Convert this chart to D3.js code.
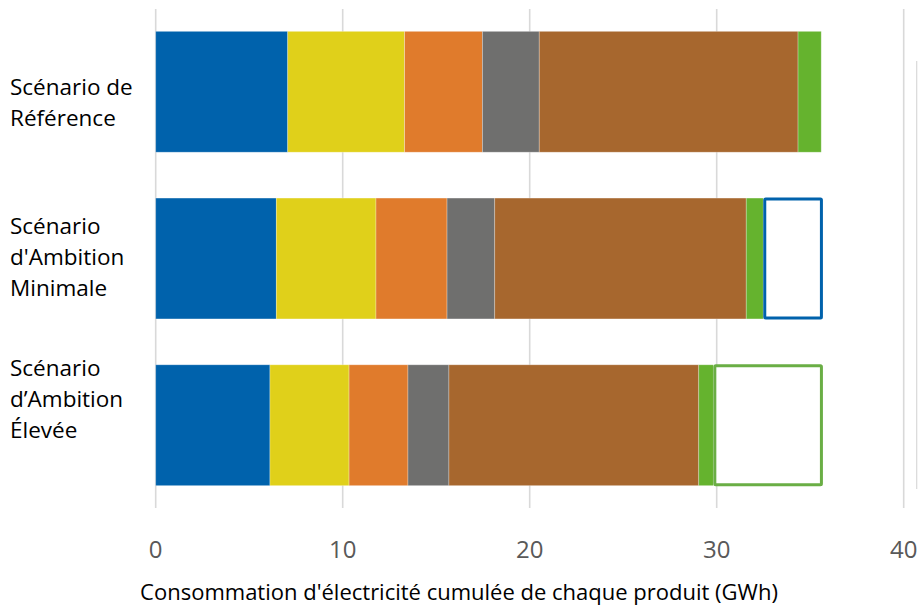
<!DOCTYPE html>
<html>
<head>
<meta charset="utf-8">
<script src="https://cdn.jsdelivr.net/npm/d3@7"></script>
<style>
  body { margin: 0; background: #fff; }
  text { font-family: "Open Sans", sans-serif; }
</style>
</head>
<body>
<script>
// scenarios (one bar each), label lines
var categories = ["Référence", "Ambition Minimale", "Ambition Élevée"];
var categoryLabels = [
  ["Scénario de", "Référence"],
  ["Scénario", "d'Ambition", "Minimale"],
  ["Scénario", "d’Ambition", "Élevée"]
];

// product groups stacked in each bar (GWh)
var seriesNames = ["Produit 1", "Produit 2", "Produit 3", "Produit 4", "Produit 5", "Produit 6"];
var produit1 = [7.06, 6.45, 6.11];
var produit2 = [6.25, 5.33, 4.23];
var produit3 = [4.16, 3.80, 3.15];
var produit4 = [3.04, 2.55, 2.19];
var produit5 = [13.84, 13.45, 13.36];
var produit6 = [1.24, 0.91, 0.78];
// savings compared to the reference scenario (outlined box)
var economies = [0, 3.11, 5.78];

var xTicks = [0, 10, 20, 30, 40];

var colors = ["#0062ac", "#e0d01a", "#e07b2c", "#6f6f6e", "#a7672e", "#65b32e"];
var savingColors = ["none", "#0062ac", "#6aae45"];

var width = 920, height = 607;

var svg = d3.select("body").append("svg")
    .attr("width", width)
    .attr("height", height);

var x = d3.scaleLinear().domain([0, 40]).range([155.7, 903.7]);
var y = d3.scaleBand().domain(categories).range([9, 508])
    .paddingInner(0.275).paddingOuter(0.134);

// gridlines
svg.selectAll("line.grid")
    .data(xTicks)
    .enter().append("line")
    .attr("class", "grid")
    .attr("x1", function(d) { return x(d); })
    .attr("x2", function(d) { return x(d); })
    .attr("y1", 9)
    .attr("y2", 508)
    .attr("stroke", "#d9d9d9")
    .attr("stroke-width", 1.6);

// partly visible legend border at the right edge
svg.append("line")
    .attr("x1", 916.7).attr("x2", 916.7)
    .attr("y1", 61).attr("y2", 489)
    .attr("stroke", "#d9d9d9")
    .attr("stroke-width", 1.2);

// build stacked table
var table = categories.map(function(c, i) {
  return {
    cat: c,
    "Produit 1": produit1[i], "Produit 2": produit2[i], "Produit 3": produit3[i],
    "Produit 4": produit4[i], "Produit 5": produit5[i], "Produit 6": produit6[i],
    saving: economies[i]
  };
});
var stacked = d3.stack().keys(seriesNames)(table);

svg.selectAll("g.series")
    .data(stacked)
    .enter().append("g")
    .attr("class", "series")
    .attr("fill", function(d, i) { return colors[i]; })
  .selectAll("rect")
    .data(function(d) { return d; })
    .enter().append("rect")
    .attr("x", function(d) { return x(d[0]); })
    .attr("width", function(d) { return x(d[1]) - x(d[0]); })
    .attr("y", function(d) { return y(d.data.cat); })
    .attr("height", y.bandwidth())
    .attr("stroke", "#ffffff")
    .attr("stroke-opacity", 0.35)
    .attr("stroke-width", 0.8);

// savings boxes
var last = stacked[stacked.length - 1];
svg.selectAll("rect.saving")
    .data(table.filter(function(d) { return d.saving > 0; }))
    .enter().append("rect")
    .attr("class", "saving")
    .attr("x", function(d, i) { return x(last[categories.indexOf(d.cat)][1]) + 1.5; })
    .attr("width", function(d) { return x(d.saving) - x(0) - 1.5; })
    .attr("y", function(d) { return y(d.cat) + 1; })
    .attr("height", y.bandwidth() - 2)
    .attr("fill", "#fff")
    .attr("stroke", function(d) { return savingColors[categories.indexOf(d.cat)]; })
    .attr("stroke-width", 3)
    .attr("rx", 1);

// category labels (first baseline offset from the band centre, as in the original)
var lineH = 31;
var labelShift = [3, -24.7, -49.6];
svg.selectAll("text.cat")
    .data(categoryLabels)
    .enter().append("text")
    .attr("class", "cat")
    .attr("x", 10)
    .attr("font-size", 22.5)
    .attr("fill", "#000")
    .each(function(lines, i) {
      var first = y(categories[i]) + y.bandwidth() / 2 + labelShift[i];
      d3.select(this).selectAll("tspan")
        .data(lines)
        .enter().append("tspan")
        .attr("x", 10)
        .attr("y", function(d, j) { return first + j * lineH; })
        .text(function(d) { return d; });
    });

// x axis tick labels
svg.selectAll("text.tick")
    .data(xTicks)
    .enter().append("text")
    .attr("class", "tick")
    .attr("x", function(d) { return x(d); })
    .attr("y", 558)
    .attr("text-anchor", "middle")
    .attr("font-size", 24)
    .attr("fill", "#595959")
    .text(function(d) { return d; });

// axis title
svg.append("text")
    .attr("x", 459)
    .attr("y", 600)
    .attr("text-anchor", "middle")
    .attr("font-size", 22)
    .attr("fill", "#000")
    .text("Consommation d'électricité cumulée de chaque produit (GWh)");
</script>
</body>
</html>
